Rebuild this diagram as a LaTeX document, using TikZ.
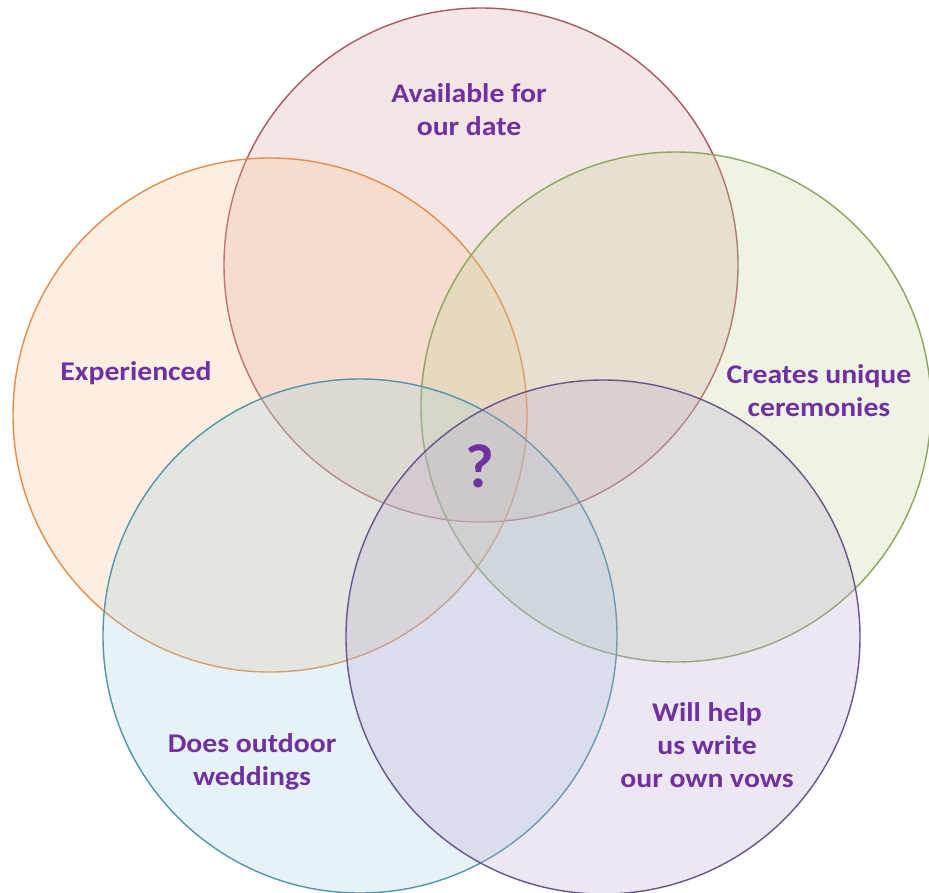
\documentclass[tikz,border=0pt]{standalone}
\usepackage{fontspec}
\setmainfont{Carlito}
\definecolor{txt}{HTML}{7030A0}
\definecolor{fA}{RGB}{219,163,163}
\definecolor{sA}{RGB}{170,90,95}
\definecolor{fB}{RGB}{247,195,147}
\definecolor{sB}{RGB}{232,140,70}
\definecolor{fC}{RGB}{195,211,155}
\definecolor{sC}{RGB}{140,165,95}
\definecolor{fD}{RGB}{163,207,223}
\definecolor{sD}{RGB}{80,150,170}
\definecolor{fE}{RGB}{187,167,207}
\definecolor{sE}{RGB}{105,85,140}
\tikzset{
  venn/.style={circle, minimum size=514pt, inner sep=0pt, line width=1.4pt, fill opacity=0.27},
  lbl/.style={text=txt, font=\fontsize{27}{33}\selectfont\bfseries, align=center, xscale=1.1}
}
\begin{document}
\begin{tikzpicture}[x=1pt,y=-1pt]
\useasboundingbox (0,0) rectangle (929,892);
\fill[white] (0,0) rectangle (929,892);
\node[venn, draw=sA, fill=fA] (top) at (481,265) {};
\node[venn, draw=sB, fill=fB] (left) at (270,415) {};
\node[venn, draw=sC, fill=fC, minimum size=510pt] (right) at (676,407) {};
\node[venn, draw=sD, fill=fD] (bl) at (360,636) {};
\node[venn, draw=sE, fill=fE] (br) at (603,637) {};
\node[lbl] (tA) at (469,110) {Available for\\our date};
\node[lbl] (tB) at (136,373) {Experienced};
\node[lbl] (tC) at (819,391) {Creates unique\\ceremonies};
\node[lbl] (tD) at (252,762) {Does outdoor\\weddings};
\node[lbl] (tE) at (707,745) {Will help\\us write\\our own vows};
\node[text=txt, font=\fontsize{62}{62}\selectfont\bfseries] (q) at (480,466) {?};
\end{tikzpicture}
\end{document}
